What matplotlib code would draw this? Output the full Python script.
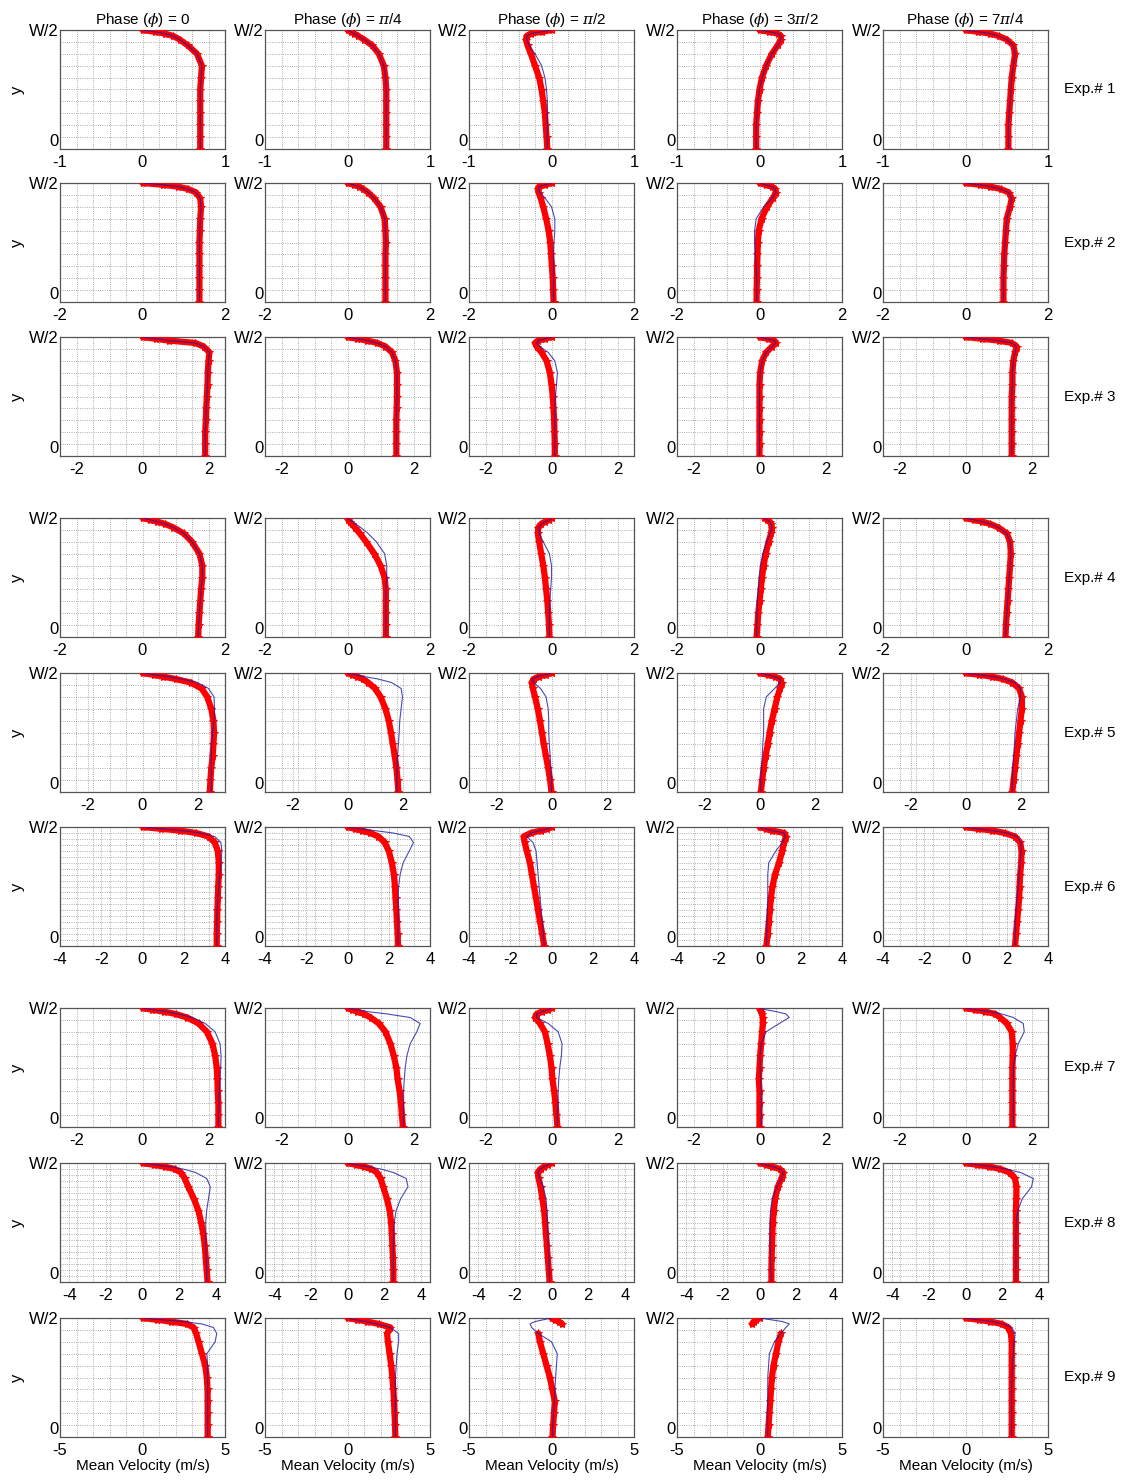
import numpy as np
import matplotlib
matplotlib.use("Agg")
import matplotlib.pyplot as plt
from matplotlib.ticker import MultipleLocator

plt.rcParams['font.family'] = ['Liberation Sans', 'DejaVu Sans']
plt.rcParams['mathtext.fontset'] = 'custom'
plt.rcParams['mathtext.rm'] = 'Liberation Sans'
plt.rcParams['mathtext.it'] = 'DejaVu Serif:italic'

# normalised wall-normal position, 0 = centre line, 1 = W/2
y_levels = [0, .1, .2, .3, .4, .5, .6, .7, .8, .87, .92, .95, .97, .985, 1.0]

phases = ['0', r'$\pi$/4', r'$\pi$/2', r'3$\pi$/2', r'7$\pi$/4']
exp_names = ['Exp.# %d' % i for i in range(1, 10)]
x_limits = [1, 2, 2.5, 2, 3, 4, 2.5, 4.5, 5]
x_ticks = [[-1, 0, 1], [-2, 0, 2], [-2, 0, 2], [-2, 0, 2], [-2, 0, 2],
           [-4, -2, 0, 2, 4], [-2, 0, 2], [-4, -2, 0, 2, 4], [-5, 0, 5]]
nan = np.nan

# measured profiles (red stars), one list per phase
exp1_meas = [[.70, .70, .70, .70, .70, .70, .71, .72, .66, .55, .45, .37, .27, .15, 0],
             [.47, .47, .47, .47, .47, .47, .46, .44, .38, .30, .20, .13, .08, .04, 0],
             [-.05, -.06, -.07, -.08, -.10, -.12, -.15, -.20, -.25, -.29, -.31, -.30, -.25, -.12, 0],
             [-.04, -.04, -.04, -.03, -.02, 0, .03, .08, .15, .22, .26, .26, .22, .12, 0],
             [.52, .52, .52, .53, .54, .55, .56, .58, .60, .58, .50, .40, .30, .15, 0]]
exp2_meas = [[1.38, 1.38, 1.38, 1.38, 1.38, 1.38, 1.39, 1.40, 1.42, 1.40, 1.30, 1.10, .85, .50, 0],
             [.92, .92, .92, .92, .92, .93, .92, .90, .80, .65, .50, .38, .28, .15, 0],
             [.05, .04, .03, .01, -.01, -.03, -.07, -.13, -.20, -.26, -.31, -.33, -.30, -.15, 0],
             [-.07, -.07, -.06, -.06, -.05, -.04, -.02, .05, .18, .32, .40, .38, .30, .15, 0],
             [.92, .92, .92, .93, .94, .96, .98, 1.0, 1.08, 1.12, 1.05, .85, .60, .35, 0]]
exp3_meas = [[1.9, 1.9, 1.9, 1.92, 1.93, 1.95, 1.97, 1.98, 2.0, 2.03, 1.85, 1.6, .8, .4, 0],
             [1.48, 1.48, 1.48, 1.48, 1.49, 1.5, 1.5, 1.5, 1.45, 1.35, 1.15, .9, .6, .3, 0],
             [.1, .1, .09, .08, .06, .04, 0, -.05, -.15, -.3, -.45, -.5, -.4, -.2, 0],
             [0, 0, 0, 0, 0, 0, 0, .02, .08, .2, .38, .5, .45, .25, 0],
             [1.4, 1.4, 1.4, 1.4, 1.4, 1.4, 1.42, 1.42, 1.45, 1.5, 1.55, 1.4, 1.0, .5, 0]]
exp4_meas = [[1.35, 1.36, 1.38, 1.4, 1.42, 1.45, 1.45, 1.38, 1.2, 1.0, .75, .55, .35, .18, 0],
             [.93, .93, .93, .93, .93, .9, .8, .65, .45, .3, .18, .1, .05, .02, 0],
             [-.05, -.06, -.08, -.1, -.13, -.16, -.2, -.25, -.3, -.33, -.32, -.25, -.15, -.05, 0],
             [-.07, -.05, -.03, 0, .03, .06, .1, .15, .22, .28, .3, .28, .25, .18, .12],
             [.97, .98, 1.0, 1.02, 1.04, 1.06, 1.08, 1.1, 1.08, 1.0, .8, .6, .4, .2, 0]]
exp5_meas = [[2.45, 2.47, 2.5, 2.55, 2.58, 2.6, 2.58, 2.5, 2.35, 2.15, 1.75, 1.2, .75, .4, 0],
             [1.85, 1.82, 1.78, 1.72, 1.65, 1.58, 1.5, 1.38, 1.2, 1.0, .75, .55, .35, .18, 0],
             [0, -.05, -.12, -.2, -.28, -.35, -.42, -.5, -.6, -.68, -.72, -.65, -.45, -.2, 0],
             [.05, .1, .15, .22, .3, .37, .45, .55, .65, .75, .8, .75, .55, .3, 0],
             [1.7, 1.75, 1.8, 1.85, 1.9, 1.95, 2.0, 2.05, 2.05, 1.95, 1.7, 1.35, .95, .5, 0]]
exp6_meas = [[3.6, 3.6, 3.62, 3.63, 3.65, 3.67, 3.7, 3.7, 3.65, 3.5, 3.2, 2.6, 1.8, .9, 0],
             [2.45, 2.43, 2.4, 2.37, 2.33, 2.3, 2.25, 2.15, 2.0, 1.8, 1.5, 1.1, .7, .35, 0],
             [-.35, -.45, -.55, -.65, -.75, -.85, -.95, -1.05, -1.2, -1.3, -1.35, -1.0, -.5, -.2, 0],
             [.33, .4, .45, .5, .55, .63, .75, .95, 1.1, 1.2, 1.28, 1.2, .6, .3, 0],
             [2.4, 2.45, 2.5, 2.55, 2.6, 2.62, 2.65, 2.7, 2.72, 2.65, 2.4, 1.9, 1.3, .6, 0]]
exp7_meas = [[2.3, 2.3, 2.3, 2.28, 2.27, 2.25, 2.2, 2.12, 1.95, 1.7, 1.35, 1.0, .65, .3, 0],
             [1.68, 1.65, 1.62, 1.58, 1.52, 1.48, 1.4, 1.3, 1.15, .95, .7, .5, .3, .15, 0],
             [.18, .15, .12, .08, .03, 0, -.05, -.12, -.2, -.35, -.5, -.45, -.3, -.1, 0],
             [0, 0, 0, 0, -.02, 0, .02, .05, .08, .1, .1, .08, .05, .02, 0],
             [1.42, 1.42, 1.42, 1.42, 1.42, 1.42, 1.43, 1.43, 1.4, 1.25, 1.05, .9, .6, .3, 0]]
exp8_meas = [[3.55, 3.5, 3.45, 3.4, 3.32, 3.2, 3.05, 2.8, 2.5, 2.3, 2.1, 1.75, 1.2, .6, 0],
             [2.5, 2.5, 2.48, 2.45, 2.42, 2.38, 2.3, 2.15, 1.95, 1.8, 1.6, 1.3, .9, .45, 0],
             [-.1, -.15, -.2, -.25, -.3, -.35, -.4, -.5, -.6, -.7, -.75, -.6, -.4, -.2, 0],
             [.65, .65, .66, .68, .7, .72, .78, .85, 1.0, 1.2, 1.3, 1.1, .7, .35, 0],
             [2.75, 2.75, 2.75, 2.75, 2.75, 2.75, 2.75, 2.77, 2.78, 2.7, 2.4, 1.9, 1.3, .6, 0]]
exp9_meas = [[3.95, 3.95, 3.95, 3.95, 3.94, 3.9, 3.8, 3.6, 3.4, 3.25, 3.1, 2.7, 1.7, .9, 0],
             [2.9, 2.88, 2.85, 2.82, 2.78, 2.72, 2.65, 2.55, 2.45, 2.4, 2.6, 1.9, 1.2, .6, 0],
             [.06, .1, .15, .2, .05, -.1, -.3, -.5, -.7, -.8, nan, .65, .45, .2, 0],
             [.5, .55, .6, .65, .7, .75, .85, 1.0, 1.15, 1.3, nan, -.45, -.35, -.2, 0],
             [2.8, 2.8, 2.8, 2.8, 2.8, 2.8, 2.8, 2.8, 2.8, 2.75, 2.6, 2.2, 1.5, .8, 0]]

# model profiles (blue line)
exp1_model = [[.70, .70, .70, .70, .70, .70, .71, .72, .66, .55, .45, .37, .27, .15, 0],
              [.47, .47, .47, .47, .47, .47, .46, .44, .38, .30, .20, .13, .08, .04, 0],
              [-.05, -.05, -.05, -.05, -.05, -.06, -.08, -.12, -.2, -.27, -.3, -.3, -.25, -.12, 0],
              [-.04, -.04, -.04, -.03, -.02, 0, .03, .08, .15, .22, .26, .26, .22, .12, 0],
              [.52, .52, .52, .53, .54, .55, .56, .58, .60, .58, .50, .40, .30, .15, 0]]
exp2_model = [[1.38, 1.38, 1.38, 1.38, 1.38, 1.38, 1.39, 1.40, 1.42, 1.40, 1.30, 1.10, .85, .50, 0],
              [.92, .92, .92, .92, .92, .93, .92, .90, .80, .65, .50, .38, .28, .15, 0],
              [.05, .05, .05, .05, .05, .06, .08, .08, 0, -.15, -.28, -.32, -.3, -.15, 0],
              [-.07, -.07, -.07, -.08, -.1, -.12, -.12, -.08, .1, .3, .4, .38, .3, .15, 0],
              [.92, .92, .92, .93, .94, .96, .98, 1.0, 1.08, 1.12, 1.05, .85, .60, .35, 0]]
exp3_model = [[1.9, 1.9, 1.9, 1.92, 1.93, 1.95, 1.97, 1.98, 2.0, 2.03, 1.85, 1.6, .8, .4, 0],
              [1.48, 1.48, 1.48, 1.48, 1.49, 1.5, 1.5, 1.5, 1.45, 1.35, 1.15, .9, .6, .3, 0],
              [.1, .1, .1, .1, .1, .12, .15, .18, .1, -.1, -.35, -.45, -.4, -.2, 0],
              [0, 0, 0, 0, 0, 0, 0, .02, .08, .2, .38, .5, .45, .25, 0],
              [1.4, 1.4, 1.4, 1.4, 1.4, 1.4, 1.42, 1.42, 1.45, 1.5, 1.55, 1.4, 1.0, .5, 0]]
exp4_model = [[1.35, 1.36, 1.38, 1.4, 1.42, 1.45, 1.45, 1.38, 1.2, 1.0, .75, .55, .35, .18, 0],
              [.93, .93, .93, .93, .93, .95, .95, .9, .7, .5, .32, .2, .12, .05, 0],
              [-.05, -.05, -.05, -.04, -.02, 0, 0, -.05, -.2, -.3, -.3, -.25, -.15, -.05, 0],
              [-.07, -.07, -.06, -.05, -.03, -.01, .02, .08, .18, .26, .3, .28, .25, .18, .12],
              [.97, .98, 1.0, 1.02, 1.04, 1.06, 1.08, 1.1, 1.08, 1.0, .8, .6, .4, .2, 0]]
exp5_model = [[2.5, 2.5, 2.5, 2.5, 2.52, 2.55, 2.6, 2.62, 2.6, 2.4, 2.0, 1.4, .9, .45, 0],
              [1.8, 1.8, 1.8, 1.82, 1.85, 1.88, 1.9, 1.95, 2.0, 1.95, 1.6, 1.1, .6, .3, 0],
              [0, 0, -.02, -.05, -.08, -.1, -.1, -.12, -.2, -.4, -.65, -.7, -.5, -.25, 0],
              [.05, .05, .07, .1, .12, .15, .15, .15, .25, .55, .75, .75, .55, .3, 0],
              [1.7, 1.7, 1.72, 1.75, 1.78, 1.8, 1.85, 1.9, 2.0, 2.0, 1.8, 1.4, 1.0, .5, 0]]
exp6_model = [[3.6, 3.6, 3.6, 3.62, 3.65, 3.7, 3.75, 3.8, 3.85, 3.8, 3.5, 2.8, 1.9, 1.0, 0],
              [2.45, 2.45, 2.45, 2.45, 2.45, 2.48, 2.55, 2.7, 3.0, 3.2, 3.0, 2.2, 1.3, .6, 0],
              [-.35, -.4, -.45, -.5, -.55, -.6, -.65, -.7, -.75, -.9, -1.2, -1.0, -.5, -.2, 0],
              [.33, .35, .37, .38, .4, .4, .4, .45, .8, 1.1, 1.25, 1.2, .6, .3, 0],
              [2.4, 2.4, 2.42, 2.45, 2.5, 2.55, 2.6, 2.65, 2.7, 2.7, 2.5, 2.0, 1.3, .6, 0]]
exp7_model = [[2.3, 2.3, 2.32, 2.33, 2.35, 2.37, 2.38, 2.35, 2.2, 1.9, 1.5, 1.1, .7, .35, 0],
              [1.7, 1.7, 1.7, 1.7, 1.72, 1.75, 1.8, 1.9, 2.1, 2.2, 1.9, 1.2, .6, .3, 0],
              [.18, .18, .2, .2, .22, .25, .3, .32, .2, -.1, -.45, -.45, -.3, -.1, 0],
              [.05, .05, .05, .05, .03, .02, .02, .05, .2, .6, .9, .8, .5, .2, 0],
              [1.45, 1.45, 1.45, 1.45, 1.45, 1.45, 1.5, 1.6, 1.78, 1.75, 1.45, 1.1, .7, .35, 0]]
exp8_model = [[3.5, 3.5, 3.48, 3.45, 3.45, 3.45, 3.5, 3.6, 3.7, 3.5, 2.9, 2.2, 1.4, .7, 0],
              [2.5, 2.5, 2.5, 2.5, 2.52, 2.55, 2.65, 2.9, 3.3, 3.2, 2.5, 1.8, 1.0, .5, 0],
              [-.1, -.12, -.15, -.18, -.2, -.22, -.25, -.3, -.45, -.65, -.75, -.6, -.4, -.2, 0],
              [.65, .62, .6, .58, .57, .57, .6, .7, .95, 1.2, 1.3, 1.1, .7, .35, 0],
              [2.75, 2.75, 2.75, 2.75, 2.75, 2.78, 2.85, 3.1, 3.6, 3.7, 3.0, 2.2, 1.4, .7, 0]]
exp9_model = [[3.95, 3.95, 3.95, 3.95, 3.95, 3.95, 3.95, 3.9, 4.4, 4.5, 4.3, 3.6, 2.5, 1.2, 0],
              [2.9, 2.9, 2.9, 2.9, 2.9, 2.9, 2.95, 3.0, 3.1, 3.1, 2.6, 1.8, 1.1, .5, 0],
              [.06, .08, .12, .18, .2, .25, .3, .35, 0, -.8, -1.2, -1.3, -1.0, -.5, 0],
              [.5, .5, .5, .5, .5, .5, .55, .6, .9, 1.3, 1.6, 1.8, 1.4, .7, 0],
              [2.8, 2.8, 2.8, 2.8, 2.8, 2.82, 2.85, 2.9, 2.95, 3.0, 2.8, 2.3, 1.6, .8, 0]]

meas = [exp1_meas, exp2_meas, exp3_meas, exp4_meas, exp5_meas,
        exp6_meas, exp7_meas, exp8_meas, exp9_meas]
model = [exp1_model, exp2_model, exp3_model, exp4_model, exp5_model,
         exp6_model, exp7_model, exp8_model, exp9_model]

W, H = 1124, 1481
fig = plt.figure(figsize=(W / 100, H / 100), dpi=100)

col_left = [60, 265, 469, 677, 883]
row_top = [30, 183, 337, 518, 673, 827, 1008, 1163, 1318]
ax_w, ax_h = 165, 119

for r in range(9):
    lim = x_limits[r]
    for c in range(5):
        ax = fig.add_axes([col_left[c] / W, 1 - (row_top[r] + ax_h) / H, ax_w / W, ax_h / H])
        ax.set_xlim(-lim, lim)
        ax.set_ylim(0, 1)

        ax.plot(meas[r][c], y_levels, '-', color='red', lw=4.5, solid_capstyle='round', zorder=3)
        ax.plot(meas[r][c], y_levels, '*', color='red', ms=6, mew=0.7, zorder=3)
        ax.plot(model[r][c], y_levels, '-', color='#1c1ca8', lw=0.8, alpha=0.8, zorder=4)

        ax.set_xticks(x_ticks[r])
        ax.set_xticklabels([str(t) for t in x_ticks[r]])
        ax.set_yticks([0, 1])
        ax.set_yticklabels(['0', 'W/2'])
        ax.get_yticklabels()[0].set_va('bottom')
        ax.xaxis.set_minor_locator(MultipleLocator(2 * lim / 10))
        ax.yaxis.set_minor_locator(MultipleLocator(0.05 if r in (5, 7) else 0.1))
        ax.grid(True, which='both', linestyle=':', color='#666666', lw=0.6, alpha=0.7)
        ax.tick_params(which='both', length=0, labelsize=12)
        ax.tick_params(axis='x', pad=4)
        ax.tick_params(axis='y', pad=1)
        for s in ax.spines.values():
            s.set_color('#555555')
            s.set_linewidth(0.9)

        if r == 0:
            ax.set_title('Phase ($\\phi$) = ' + phases[c], fontsize=11, pad=4)
        if c == 0:
            ax.set_ylabel('y', fontsize=12, labelpad=3)
        if r == 8:
            ax.set_xlabel('Mean Velocity (m/s)', fontsize=11, labelpad=1)

    fig.text(1090 / W, 1 - (row_top[r] + ax_h / 2) / H, exp_names[r],
             fontsize=11, ha='center', va='center')

fig.savefig('out.png', dpi=100, facecolor='white')
